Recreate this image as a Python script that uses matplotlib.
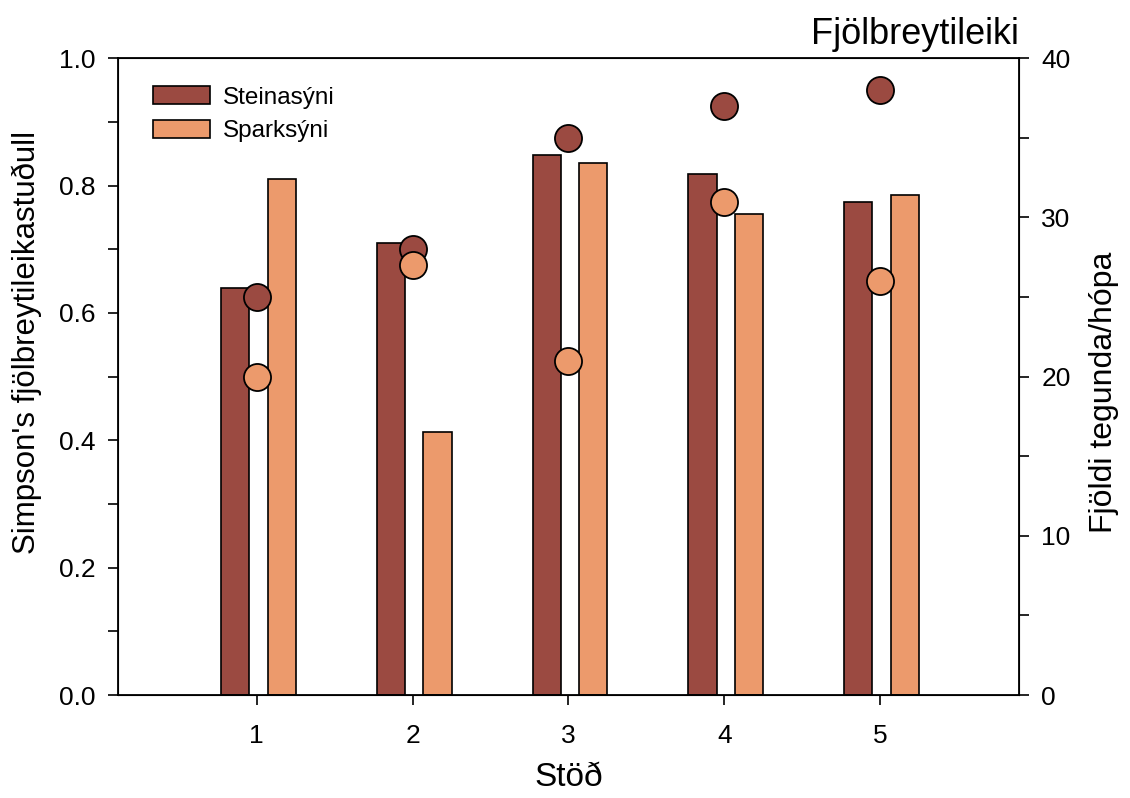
import numpy as np
import matplotlib.pyplot as plt
from matplotlib.ticker import MultipleLocator

plt.rcParams['font.family'] = ['Liberation Sans', 'DejaVu Sans']

stations = [1, 2, 3, 4, 5]
simpson_stein = [0.64, 0.71, 0.848, 0.819, 0.774]
simpson_spark = [0.81, 0.413, 0.836, 0.755, 0.786]
fjoldi_stein = [25, 28, 35, 37, 38]
fjoldi_spark = [20, 27, 21, 31, 26]

c_dark = "#9b4a41"
c_light = "#ec9a6c"

fig = plt.figure(figsize=(11.3, 7.98), dpi=100)
ax = fig.add_axes([0.1044, 0.129, 0.7973, 0.798])

x = np.array(stations)
ax.bar(x - 0.14, simpson_stein, width=0.18, color=c_dark, edgecolor="black",
       linewidth=1.2, label="Steinasýni", zorder=2)
ax.bar(x + 0.16, simpson_spark, width=0.18, color=c_light, edgecolor="black",
       linewidth=1.2, label="Sparksýni", zorder=2)

ax.set_xlim(0.11, 5.89)
ax.set_ylim(0, 1.0)
ax.set_xticks(stations)
ax.yaxis.set_major_locator(MultipleLocator(0.2))
ax.yaxis.set_minor_locator(MultipleLocator(0.1))
ax.yaxis.set_major_formatter(plt.FormatStrFormatter("%.1f"))
ax.tick_params(axis="both", which="both", direction="out", labelsize=19,
               width=1.2, length=7, pad=9)
ax.tick_params(axis="x", pad=14)
ax.set_xlabel("Stöð", fontsize=24, labelpad=10)
ax.set_ylabel("Simpson's fjölbreytileikastuðull", fontsize=22.5, labelpad=12)
ax.yaxis.label.set_y(0.553)
for s in ax.spines.values():
    s.set_linewidth(1.3)

leg = ax.legend(loc="upper left", bbox_to_anchor=(0.015, 0.99), frameon=False,
                fontsize=17.5, handlelength=2.35, handleheight=0.75,
                handletextpad=0.5, labelspacing=0.45)

ax2 = ax.twinx()
ax2.scatter(x, fjoldi_stein, s=380, color=c_dark, edgecolor="black",
            linewidth=1.3, zorder=3, clip_on=False)
ax2.scatter(x, fjoldi_spark, s=380, color=c_light, edgecolor="black",
            linewidth=1.3, zorder=3, clip_on=False)
ax2.set_ylim(0, 40)
ax2.yaxis.set_major_locator(MultipleLocator(10))
ax2.yaxis.set_minor_locator(MultipleLocator(5))
ax2.tick_params(axis="y", which="both", direction="out", labelsize=19,
                width=1.2, length=7, pad=9)
ax2.set_ylabel("Fjöldi tegunda/hópa", fontsize=23, labelpad=13)
ax2.yaxis.label.set_y(0.476)
ax2.set_title("Fjölbreytileiki", loc="right", fontsize=26, pad=10)

fig.savefig("out.png", dpi=100)
